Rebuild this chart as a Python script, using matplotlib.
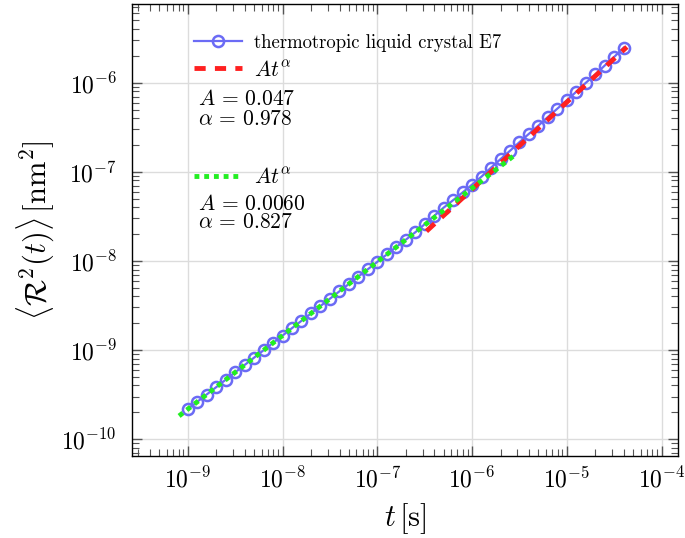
import matplotlib
matplotlib.use("Agg")
import matplotlib.pyplot as plt
import numpy as np

# measured mean squared displacement
t_data = [
	1.00e-9, 1.26e-9, 1.58e-9, 2.00e-9, 2.51e-9, 3.16e-9, 3.98e-9, 5.01e-9, 6.31e-9, 7.94e-9,
	1.00e-8, 1.26e-8, 1.58e-8, 2.00e-8, 2.51e-8, 3.16e-8, 3.98e-8, 5.01e-8, 6.31e-8, 7.94e-8,
	1.00e-7, 1.26e-7, 1.58e-7, 2.00e-7, 2.51e-7, 3.16e-7, 3.98e-7, 5.01e-7, 6.31e-7, 7.94e-7,
	1.00e-6, 1.26e-6, 1.58e-6, 2.00e-6, 2.51e-6, 3.16e-6, 3.98e-6, 5.01e-6, 6.31e-6, 7.94e-6,
	1.00e-5, 1.26e-5, 1.58e-5, 2.00e-5, 2.51e-5, 3.16e-5, 3.98e-5,
]
r2_data = [
	2.16e-10, 2.62e-10, 3.16e-10, 3.83e-10, 4.63e-10, 5.60e-10, 6.78e-10, 8.20e-10, 9.93e-10,
	1.20e-9, 1.45e-9, 1.76e-9, 2.12e-9, 2.57e-9, 3.11e-9, 3.76e-9, 4.55e-9, 5.51e-9, 6.67e-9, 8.05e-9, 9.75e-9,
	1.18e-8, 1.43e-8, 1.73e-8, 2.09e-8, 2.58e-8, 3.20e-8, 3.96e-8, 4.80e-8, 5.86e-8, 7.18e-8, 8.85e-8,
	1.11e-7, 1.39e-7, 1.72e-7, 2.15e-7, 2.67e-7, 3.30e-7, 4.13e-7, 5.12e-7, 6.34e-7, 7.94e-7, 9.95e-7,
	1.24e-6, 1.56e-6, 1.95e-6, 2.48e-6,
]

# fits  A t^alpha
A_late, alpha_late = 0.047, 0.978
t_late = [3.3e-7, 4.3e-5]
A_early, alpha_early = 0.0060, 0.827
t_early = [8.1e-10, 2.9e-6]

plt.rcParams['mathtext.fontset'] = 'cm'
plt.rcParams['font.family'] = 'serif'
plt.rcParams['font.serif'] = ['cmr10', 'DejaVu Serif']
plt.rcParams['axes.formatter.use_mathtext'] = True

fig = plt.figure(figsize=(6.85, 5.38), dpi=100)
ax = fig.add_axes([0.1927, 0.1524, 0.7971, 0.8402])

line_b, = ax.plot(t_data, r2_data, '-o', color='#6b6bf5', lw=1.6, ms=8, mfc='none', mew=1.8,
	zorder=3)
tl = np.array(t_late)
line_r, = ax.plot(tl, A_late * tl ** alpha_late, '--', color='#ff2020', lw=3.5, dashes=(2.3, 1.9),
	zorder=4)
te = np.array(t_early)
line_g, = ax.plot(te, A_early * te ** alpha_early, ':', color='#22ee22', lw=3.5, dashes=(1, 1),
	zorder=4)

ax.set_xscale('log')
ax.set_yscale('log')
ax.set_xticks([1e-9, 1e-8, 1e-7, 1e-6, 1e-5, 1e-4])
ax.set_yticks([1e-10, 1e-9, 1e-8, 1e-7, 1e-6])
ax.set_xlim(2.58e-10, 1.49e-4)
ax.set_ylim(6.45e-11, 7.66e-6)

ax.grid(True, which='major', color='#dcdcdc', lw=1, zorder=0)
ax.tick_params(which='both', direction='in', top=True, right=True, color='#555555')
ax.tick_params(which='major', length=7, width=1, labelsize=17)
ax.tick_params(axis='y', which='major', pad=11)
ax.tick_params(axis='x', which='major', pad=8)
ax.tick_params(which='minor', length=5, width=0.8)
for s in ax.spines.values():
	s.set_linewidth(1.0)

ax.set_xlabel(r'$t\,[\mathrm{s}]$', fontsize=22, labelpad=6)
ax.set_ylabel(r'$\langle \mathcal{R}^2(t)\rangle\,[\mathrm{nm}^2]$', fontsize=22, labelpad=4)

# legend entries, one per row
entries = [
	(line_b, 'thermotropic liquid crystal E7', 13.5, 0.914),
	(line_r, r'$At^{\alpha}$', 15.5, 0.854),
	(line_g, r'$At^{\alpha}$', 15.5, 0.617),
]
for h, lab, fs, y in entries:
	leg = plt.legend([h], [lab], loc='center left', bbox_to_anchor=(0.1136, y), frameon=False,
		prop={'size': fs}, handlelength=34.6 / fs, handletextpad=8.5 / fs, borderpad=0,
		borderaxespad=0)
	ax.add_artist(leg)
ax.legend_ = None

fit_text = [
	(r'$A \,=\, 0.047$', 0.7765),
	(r'$\alpha \,=\, 0.978$', 0.7323),
	(r'$A \,=\, 0.0060$', 0.5442),
	(r'$\alpha \,=\, 0.827$', 0.5044),
]
for s, y in fit_text:
	ax.text(0.121, y, s, transform=ax.transAxes, fontsize=15.5, va='baseline', ha='left')

fig.savefig('out.png', dpi=100)
